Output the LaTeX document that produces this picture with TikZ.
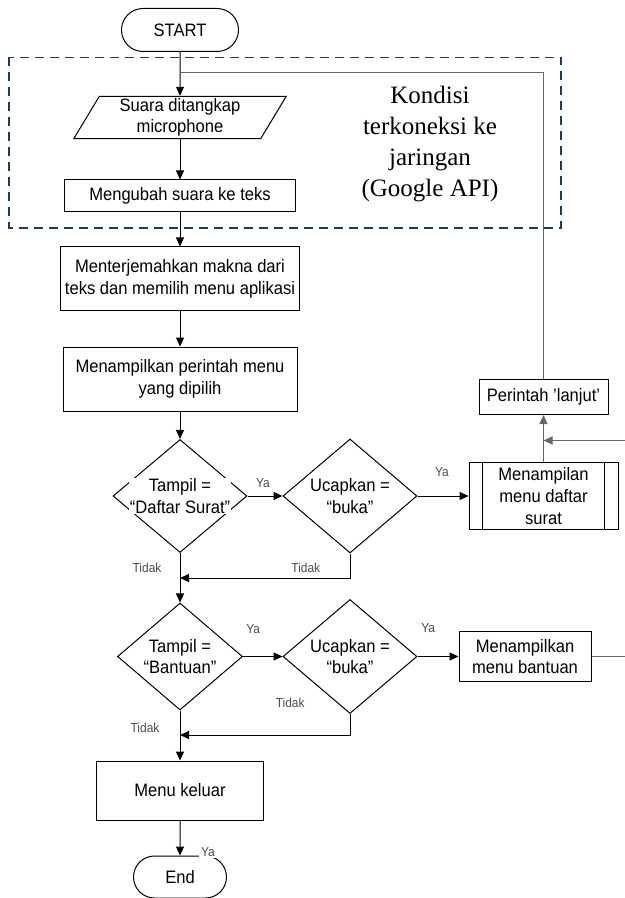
\documentclass[tikz,border=0pt]{standalone}
\usepackage{fontspec}
\setmainfont{Liberation Sans}[FakeStretch=0.92]
\newfontfamily\timesfont{Liberation Serif}
\usepackage{tikz}
\usetikzlibrary{arrows.meta, positioning, shapes.geometric, shapes.misc}

\definecolor{navy}{HTML}{1F3A5F}

\begin{document}
\begin{tikzpicture}[x=0.5pt, y=-0.5pt, >={Triangle[length=4.5pt, width=4pt]}, line width=0.5pt, font=\fontsize{9}{10.8}\selectfont]
        % Estilos de los bloques
        \tikzstyle{terminal} = [draw, rounded rectangle, minimum width=62.5pt, minimum height=21.5pt, inner sep=2pt]
        \tikzstyle{io} = [draw, trapezium, trapezium left angle=65, trapezium right angle=115, trapezium stretches=true, minimum width=107pt, minimum height=20.5pt, inner sep=1pt, align=center]
        \tikzstyle{block} = [draw, rectangle, inner sep=2pt, align=center]
        \tikzstyle{decision} = [draw, diamond, inner sep=0pt]
        \tikzstyle{note} = [text=black!70, font=\fontsize{6.5}{7}\selectfont, inner sep=1pt]
        \tikzstyle{loopline} = [draw=black!60]
        \tikzstyle{groupbox} = [draw=navy, line width=0.8pt, dash pattern=on 4.5pt off 3pt]
        \tikzstyle{condition} = [align=center, font=\timesfont\fontsize{12.5}{15.5}\selectfont]

        \useasboundingbox (0,0) rectangle (625,898);

        % Bloque punteado
        \draw [groupbox] (9,57.5) rectangle (561,228);

        % Nodos
        \node at (180,30) [terminal] (start) {START};
        \node [io, on grid, below=43.75pt of start] (input) {Suara ditangkap\\microphone};
        \node [block, on grid, below=39.25pt of input, minimum width=115.5pt, minimum height=16pt] (ubah) {Mengubah suara ke teks};
        \node [block, on grid, below=41.5pt of ubah, minimum width=116pt, minimum height=32pt] (terjemah) {Menterjemahkan makna dari\\teks dan memilih menu aplikasi};
        \node [block, on grid, below=50pt of terjemah, minimum width=117pt, minimum height=32pt] (tampilkan) {Menampilkan perintah menu\\yang dipilih};
        \node [decision, on grid, below=58.5pt of tampilkan, minimum width=67pt, minimum height=56.5pt,
               label={[fill=white, inner sep=0.5pt, align=center]center:Tampil =\\“Daftar Surat”}] (d1) {};
        \node [decision, on grid, right=85pt of d1, minimum width=67pt, minimum height=57pt,
               label={[fill=white, inner sep=0.5pt, align=center]center:Ucapkan =\\“buka”}] (d2) {};
        \node [block, on grid, right=96.75pt of d2, minimum width=74.5pt, minimum height=33.5pt] (daftar) {Menampilan\\menu daftar\\surat};
        \node [block, on grid, above=49.5pt of daftar, minimum width=64.5pt, minimum height=17.5pt] (lanjut) {Perintah 'lanjut'};
        \node [decision, on grid, below=80.25pt of d1, minimum width=62.5pt, minimum height=53.5pt,
               label={[fill=white, inner sep=0.5pt, align=center]center:Tampil =\\“Bantuan”}] (d3) {};
        \node [decision, on grid, right=85pt of d3, minimum width=67pt, minimum height=57pt,
               label={[fill=white, inner sep=0.5pt, align=center]center:Ucapkan =\\“buka”}] (d4) {};
        \node [block, on grid, right=87.5pt of d4, minimum width=66pt, minimum height=25pt] (bantuan) {Menampilkan\\menu bantuan};
        \node [block, on grid, below=67pt of d3, minimum width=83.5pt, minimum height=29.5pt] (keluar) {Menu keluar};
        \node [terminal, on grid, below=43.25pt of keluar, minimum width=50.5pt, minimum height=21pt] (end) {End};
        \node at (430,144) [condition] (kondisi) {Kondisi\\terkoneksi ke\\jaringan\\(Google API)};

        % Puntos de union
        \node [coordinate, on grid, below=21.5pt of start] (loopIn) {};
        \node [coordinate, on grid, below=41pt of d1] (tidakIn1) {};
        \node [coordinate, on grid, below=39.25pt of d3] (tidakIn2) {};
        \node [coordinate, on grid, below=21.75pt of lanjut] (mergeIn) {};
        \node [coordinate, on grid, right=57.5pt of bantuan] (bantuanOut) {};

        % Lineas del proceso predefinido
        \draw ([xshift=7pt]daftar.north west) -- ([xshift=7pt]daftar.south west);
        \draw ([xshift=-7pt]daftar.north east) -- ([xshift=-7pt]daftar.south east);

        % Conexiones
        \draw [->] (start) -- (input);
        \draw [loopline] (lanjut) |- (loopIn);
        \draw [->] (input) -- (ubah);
        \draw [->] (ubah) -- (terjemah);
        \draw [->] (terjemah) -- (tampilkan);
        \draw [->] (tampilkan) -- (d1);
        \draw [->] (d1) -- node [note, pos=0.44, yshift=6.5pt] {Ya} (d2);
        \draw [->] (d2) -- node [note, pos=0.48, yshift=12pt] {Ya} (daftar);
        \draw [->, loopline] (daftar) -- (lanjut);
        \draw [->] (d2) |- node [note, pos=0.63, yshift=5pt] {Tidak} (tidakIn1);
        \draw [->] (d1) -- node [note, pos=0.31, xshift=-16.5pt] {Tidak} (d3);
        \draw [->] (d3) -- node [note, pos=0.26, yshift=13.5pt] {Ya} (d4);
        \draw [->] (d4) -- node [note, pos=0.26, yshift=14pt] {Ya} (bantuan);
        \draw [->] (d4) |- node [note, pos=0.676, yshift=16pt] {Tidak} (tidakIn2);
        \draw [->] (d3) -- node [note, pos=0.35, xshift=-17.5pt] {Tidak} (keluar);
        \draw [->] (keluar) -- node [note, fill=white, pos=0.89, xshift=14pt] {Ya} (end);
        \draw [->, loopline] (bantuan) -- (bantuanOut) |- (mergeIn);
\end{tikzpicture}
\end{document}
